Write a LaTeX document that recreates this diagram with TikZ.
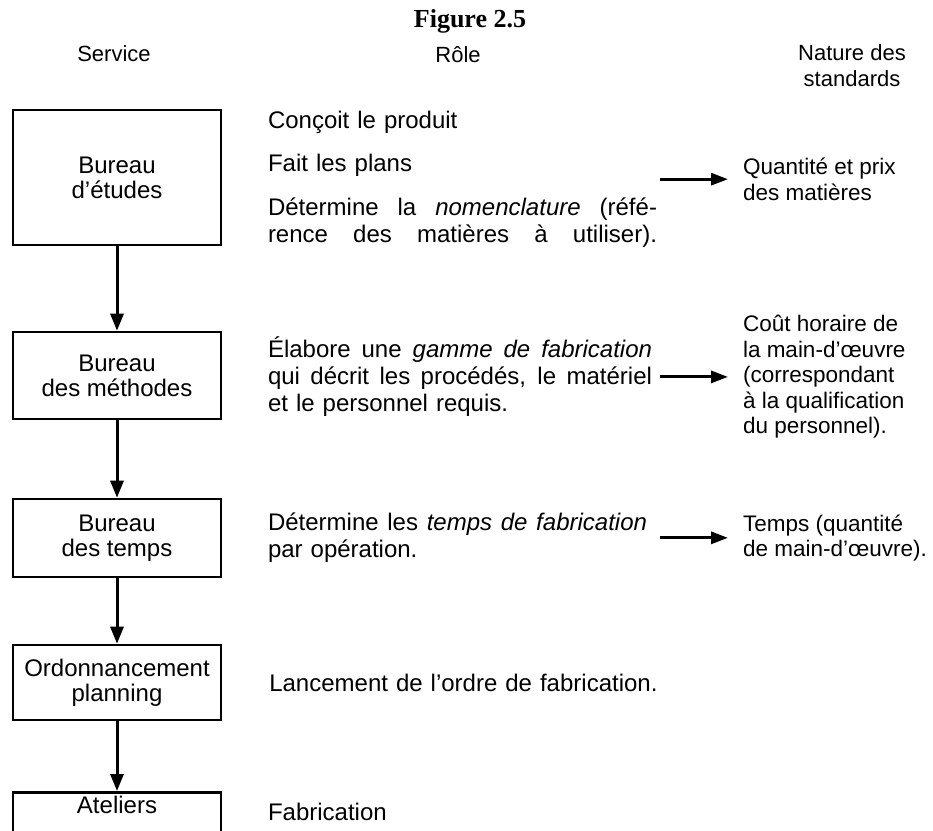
\documentclass[tikz,border=0pt]{standalone}
\usepackage{fontspec}
\setmainfont{Liberation Sans}
\newfontfamily\titlefont{Liberation Serif}
\usetikzlibrary{arrows.meta,positioning}

% one line spread out to a given width
\newcommand{\fullline}[2][389pt]{\makebox[#1][s]{\spaceskip=.28em plus 1em\relax #2}}

\tikzset{
  svc/.style={draw, line width=2.6pt, minimum width=208pt, inner sep=4pt, align=center, font=\fontsize{24}{25}\selectfont},
  role/.style={inner sep=0pt, outer sep=0pt, text width=389pt, align=left, font=\fontsize{24}{27}\selectfont},
  std/.style={inner sep=0pt, outer sep=0pt, align=left, font=\fontsize{22.5}{25.5}\selectfont},
  head/.style={inner sep=0pt, align=center, font=\fontsize{22}{26}\selectfont},
  varrow/.style={-{Triangle[length=17pt,width=13pt]}, line width=3pt},
  harrow/.style={-{Triangle[length=17pt,width=12pt]}, line width=3pt, shorten <=3pt, shorten >=15pt},
}

\begin{document}
\begin{tikzpicture}[x=1pt,y=1pt]
  \useasboundingbox (0,0) rectangle (933,-830);

  % column heads
  \node[font=\titlefont\bfseries\fontsize{26}{28}\selectfont] (fig) at (470,-21) {Figure 2.5};
  \node[head] (hservice) at (114,-54) {Service};
  \node[head] (hrole) at (458,-55) {Rôle};
  \node[head] (hnature) at (852,-66) {Nature des\\standards};

  % services
  \node[svc, minimum height=135pt] (etudes) at (117,-177.5) {Bureau\\d’études};
  \node[svc, minimum height=87pt] (methodes) at (117,-375.5) {Bureau\\des méthodes};
  \node[svc, minimum height=78pt] (temps) at (117,-538) {Bureau\\des temps};
  \node[svc, minimum height=75pt] (ordo) at (117,-682.5) {Ordonnancement\\planning};
  \node[svc, anchor=north, text depth=40pt] (ateliers) at (117,-791) {Ateliers};

  \draw[varrow] (etudes) -- (methodes);
  \draw[varrow] (methodes) -- (temps);
  \draw[varrow] (temps) -- (ordo);
  \draw[varrow] (ordo) -- (ateliers);

  % roles
  \node[role, anchor=north west] (r1) at (268,-111) {Conçoit le produit\\[16pt]Fait les plans\\[17pt]\fullline{Détermine la \emph{nomenclature} (réfé-}\\\fullline{rence des matières à utiliser).}};
  \node[role, anchor=north west] (r2) at (268,-337) {\fullline[384pt]{Élabore une \emph{gamme de fabrication}}\\\fullline[384pt]{qui décrit les procédés, le matériel}\\et le personnel requis.};
  \node[role, anchor=north west] (r3) at (268,-513) {\fullline[379pt]{Détermine les \emph{temps de fabrication}}\\par opération.};
  \node[role, right=47pt of ordo] (r4) {Lancement de l’ordre de fabrication.};
  \node[role, anchor=west] (r5) at (268,-812) {Fabrication};

  % standards
  \node[std, right=86pt of r1] (n1) {Quantité et prix\\des matières};
  \node[std, right=86pt of r2] (n2) {Coût horaire de\\la main-d’œuvre\\(correspondant\\à la qualification\\du personnel).};
  \node[std, right=86pt of r3] (n3) {Temps (quantité\\de main-d’œuvre).};

  \draw[harrow] (r1.east) -- (n1.west);
  \draw[harrow] (r2.east) -- (n2.west);
  \draw[harrow] (r3.east) -- (n3.west);
\end{tikzpicture}
\end{document}
